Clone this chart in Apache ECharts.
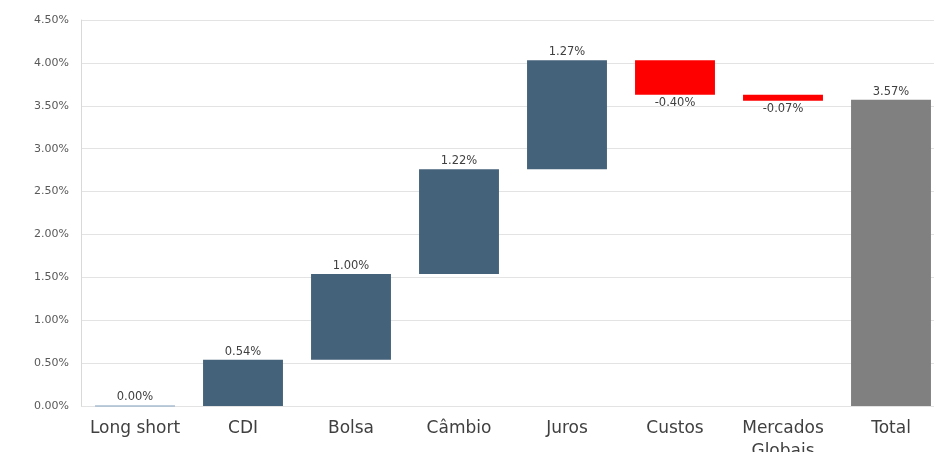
<!DOCTYPE html>
<html><head><meta charset="utf-8">
<script src="https://cdn.jsdelivr.net/npm/echarts@6/dist/echarts.min.js"></script>
<style>html,body{margin:0;padding:0;background:#fff}#c{width:934px;height:452px}</style>
</head><body><div id="c"></div>
<script>
const categories = ['Long short', 'CDI', 'Bolsa', 'Câmbio', 'Juros', 'Custos', 'Mercados\nGlobais', 'Total'];
const changes = [0.00, 0.54, 1.00, 1.22, 1.27, -0.40, -0.07, 3.57];
const isTotal = [false, false, false, false, false, false, false, true];
const yTicks = { min: 0, max: 4.5, interval: 0.5 };

const base = [], visible = [];
let cum = 0;
changes.forEach((v, i) => {
  if (isTotal[i]) { base.push(0); visible.push(v); return; }
  if (v >= 0) { base.push(cum); visible.push(v); cum += v; }
  else { cum += v; base.push(cum); visible.push(-v); }
});
const colorFor = (i) => isTotal[i] ? '#808080' : (changes[i] < 0 ? '#FF0000' : (changes[i] === 0 ? '#A8BCD0' : '#44627A'));

const chart = echarts.init(document.getElementById('c'));
chart.setOption({
  animation: false,
  textStyle: { fontFamily: 'DejaVu Sans' },
  grid: { left: 81, right: -11, top: 20, bottom: 46, containLabel: false, outerBoundsMode: 'none' },
  xAxis: {
    type: 'category', data: categories,
    axisLine: { show: false }, axisTick: { show: false },
    axisLabel: { fontSize: 17, color: '#404040', margin: 11, lineHeight: 23, interval: 0 }
  },
  yAxis: {
    type: 'value', min: yTicks.min, max: yTicks.max, interval: yTicks.interval,
    axisLine: { show: true, lineStyle: { color: '#D9D9D9' } },
    axisTick: { show: false },
    splitLine: { lineStyle: { color: '#E3E3E3' } },
    axisLabel: { fontSize: 11, color: '#595959', margin: 12, formatter: v => v.toFixed(2) + '%' }
  },
  series: [
    { type: 'bar', stack: 'w', data: base, barWidth: '74%', itemStyle: { color: 'transparent' }, silent: true },
    { type: 'bar', stack: 'w', barWidth: '74%',
      data: visible.map((v, i) => ({
        value: v,
        itemStyle: { color: colorFor(i), borderColor: colorFor(i), borderWidth: changes[i] === 0 ? 1 : 0 },
        label: {
          show: true, position: changes[i] < 0 ? 'bottom' : 'top', distance: 2,
          fontSize: 11.5, color: '#404040',
          formatter: () => changes[i].toFixed(2) + '%'
        }
      }))
    }
  ]
});
</script></body></html>
